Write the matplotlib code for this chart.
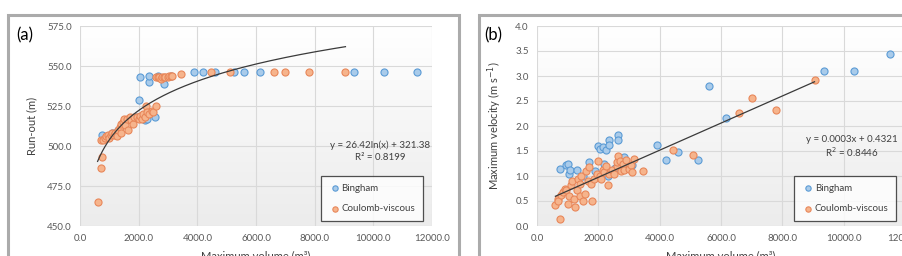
import numpy as np
import matplotlib.pyplot as plt
from matplotlib.patches import Rectangle

# Bingham model results (volume m3, run-out m, max velocity m/s)
bingham_vol = [750, 950, 1000, 1050, 1080, 1300, 1500, 1700, 1900, 2000, 2050, 2150,
               2250, 2350, 2350, 2550, 2650, 2650, 2850, 3100, 2200, 2300,
               3900, 4200, 4600, 5250, 5600, 6150, 9350, 10350, 11500]
bingham_runout = [507, 506, 506, 507, 508, 510, 514, 517, 518, 529, 543, 519,
                  520, 540, 544, 518, 544, 543, 539, 544, 516, 517,
                  546, 546, 546, 546, 546, 546, 546, 546, 546]
bingham_vel = [1.15, 1.22, 1.25, 1.05, 1.12, 1.12, 1.00, 1.28, 1.10, 1.60, 1.55, 1.58,
               1.53, 1.72, 1.62, 1.17, 1.82, 1.72, 1.38, 1.22, 1.25, 1.00,
               1.62, 1.32, 1.48, 1.32, 2.80, 2.17, 3.10, 3.10, 3.45]

# Coulomb-viscous model results
coulomb_vol = [600, 700, 750, 700, 780, 850, 900, 950, 1000, 1050, 1100, 1150, 1200,
               1250, 1300, 1350, 1400, 1400, 1450, 1500, 1550, 1600, 1650, 1700,
               1750, 1800, 1850, 1950, 2000, 2050, 2100, 2150, 2200, 2250, 2300,
               2350, 2450, 2500, 2600, 2600, 2650, 2700, 2750, 2800, 2850, 2900,
               3000, 3050, 3100, 3150, 3450, 4450, 5100, 6600, 7000, 7800, 9050]
coulomb_runout = [465, 486, 493, 504, 504, 505, 506, 507, 505, 507, 508, 507, 508,
                  506, 510, 512, 508, 514, 515, 517, 513, 517, 510, 518,
                  516, 514, 518, 518, 517, 519, 517, 520, 518, 525, 521,
                  520, 522, 521, 525, 543, 543, 543, 542, 543, 543, 543,
                  543, 544, 544, 544, 545, 546, 546, 546, 546, 546, 546]
coulomb_vel = [0.42, 0.55, 0.15, 0.50, 0.62, 0.68, 0.75, 0.72, 0.45, 0.60, 0.82, 0.90, 0.55,
               0.38, 0.72, 0.95, 0.60, 0.85, 1.00, 0.50, 0.65, 1.10, 0.90, 1.18,
               0.85, 0.50, 0.95, 1.05, 1.30, 1.00, 0.95, 1.12, 1.08, 1.20, 0.83,
               1.05, 1.12, 1.05, 1.20, 1.28, 1.40, 1.30, 1.10, 1.25, 1.12, 1.32,
               1.15, 1.22, 1.08, 1.35, 1.10, 1.52, 1.42, 2.27, 2.57, 2.32, 2.93]

# trendline coefficients (fitted to the Coulomb-viscous series)
log_a, log_b = 26.42, 321.38
lin_m, lin_c = 0.000271, 0.4321

BLUE_FILL, BLUE_EDGE = '#a9cbea', '#5b9bd5'
ORANGE_FILL, ORANGE_EDGE = '#f6b48c', '#e8875a'
TICK_COL = '#595959'
FONT = 'Lato'

fig = plt.figure(figsize=(9.03, 2.56), dpi=100)

# chart frames
for (x0, w) in [(8, 451), (479, 440)]:
    fig.patches.append(Rectangle((x0 / 903, -0.1), w / 903, (256 - 15) / 256 + 0.1,
                                 transform=fig.transFigure, fill=False,
                                 edgecolor='#ababab', lw=2.2))

grad = np.linspace(1, 0, 100).reshape(-1, 1)


def setup(ax, ylim, yticks, yfmt):
    ax.imshow(grad, extent=[0, 1, 0, 1], transform=ax.transAxes, aspect='auto',
              cmap=plt.matplotlib.colors.LinearSegmentedColormap.from_list('g', ['#ececec', '#ffffff']),
              zorder=0)
    ax.set_xlim(0, 12000)
    ax.set_ylim(*ylim)
    ax.set_xticks(np.arange(0, 12001, 2000))
    ax.set_xticklabels(['%.1f' % v for v in np.arange(0, 12001, 2000)])
    ax.set_yticks(yticks)
    ax.set_yticklabels([yfmt % v for v in yticks])
    ax.grid(True, color='#d9d9d9', lw=0.8, zorder=1)
    ax.set_axisbelow(True)
    for s in ax.spines.values():
        s.set_visible(False)
    ax.tick_params(length=0, labelsize=7, labelcolor=TICK_COL, pad=6)
    for lab in ax.get_xticklabels() + ax.get_yticklabels():
        lab.set_family(FONT)


def scatter(ax, yb, yc):
    ax.scatter(bingham_vol, yb, s=26, facecolor=BLUE_FILL, edgecolor=BLUE_EDGE,
               lw=0.8, zorder=3, label='Bingham')
    ax.scatter(coulomb_vol, yc, s=26, facecolor=ORANGE_FILL, edgecolor=ORANGE_EDGE,
               lw=0.8, zorder=3, label='Coulomb-viscous')


def legend(ax, x):
    leg = ax.legend(loc='lower right', bbox_to_anchor=(x, 0.025), frameon=True,
                    fancybox=False, edgecolor='#262626', prop={'family': FONT, 'size': 7},
                    labelspacing=1.2, handletextpad=0.1, markerscale=0.75,
                    borderpad=0.8, handlelength=1.2, borderaxespad=0)
    leg.get_frame().set_linewidth(0.9)
    for t in leg.get_texts():
        t.set_color('#404040')


# (a) run-out
ax1 = fig.add_axes([80 / 903, 30 / 256, 352 / 903, 200 / 256])
setup(ax1, (450, 575), np.arange(450, 576, 25), '%.1f')
scatter(ax1, bingham_runout, coulomb_runout)
xt = np.linspace(min(coulomb_vol), max(coulomb_vol), 200)
ax1.plot(xt, log_a * np.log(xt) + log_b, color='#3a3a3a', lw=0.9, zorder=4)
ax1.text(0.852, 0.405, 'y = 26.42ln(x) + 321.38', transform=ax1.transAxes, ha='center',
         va='center', fontsize=7, family=FONT, color='#404040')
ax1.text(0.852, 0.345, 'R² = 0.8199', transform=ax1.transAxes, ha='center',
         va='center', fontsize=7, family=FONT, color='#404040')
ax1.set_ylabel('Run-out (m)', fontsize=8, family=FONT, color='#404040', labelpad=7)
ax1.set_xlabel('Maximum volume (m³)', fontsize=8, family=FONT, color='#404040', labelpad=5)
legend(ax1, 0.974)
fig.text(16 / 903, 1 - 35 / 256, '(a)', fontsize=12, family=FONT, va='center')

# (b) max velocity
ax2 = fig.add_axes([537 / 903, 30 / 256, 368 / 903, 200 / 256])
setup(ax2, (0, 4), np.arange(0, 4.01, 0.5), '%.1f')
scatter(ax2, bingham_vel, coulomb_vel)
ax2.plot(xt, lin_m * xt + lin_c, color='#3a3a3a', lw=0.9, zorder=4)
ax2.text(0.856, 0.435, 'y = 0.0003x + 0.4321', transform=ax2.transAxes, ha='center',
         va='center', fontsize=7, family=FONT, color='#404040')
ax2.text(0.856, 0.37, 'R$^2$ = 0.8446', transform=ax2.transAxes, ha='center',
         va='center', fontsize=7, family=FONT, color='#404040')
ax2.set_ylabel('Maximum velocity (m s$^{-1}$)', fontsize=8, family=FONT, color='#404040',
               labelpad=8)
ax2.set_xlabel('Maximum volume (m³)', fontsize=8, family=FONT, color='#404040', labelpad=5)
legend(ax2, 0.976)
fig.text(484 / 903, 1 - 35 / 256, '(b)', fontsize=12, family=FONT, va='center')

fig.savefig('out.png', dpi=100)
